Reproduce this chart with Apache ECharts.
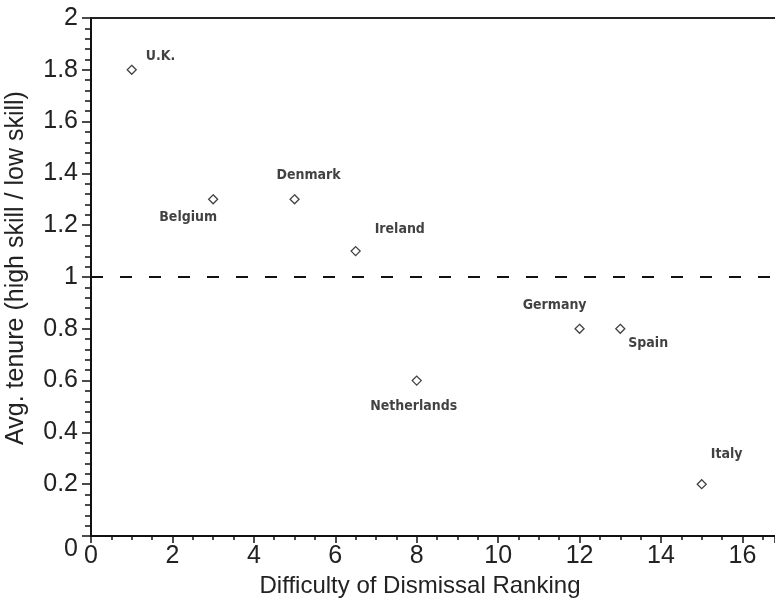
<!DOCTYPE html>
<html>
<head>
<meta charset="utf-8">
<script src="https://cdn.jsdelivr.net/npm/echarts@6/dist/echarts.min.js"></script>
<style>
html,body{margin:0;padding:0;background:#fff;}
#c{width:775px;height:604px;}
</style>
</head>
<body>
<div id="c"></div>
<script>
// Data
var countries = ['U.K.', 'Belgium', 'Denmark', 'Ireland', 'Netherlands', 'Germany', 'Spain', 'Italy'];
var dismissalRanking = [1, 3, 5, 6.5, 8, 12, 13, 15];
var tenureRatio = [1.8, 1.3, 1.3, 1.1, 0.6, 0.8, 0.8, 0.2];
var referenceLevel = 1;
var xTicks = [0, 2, 4, 6, 8, 10, 12, 14, 16];
var yTicks = [0, 0.2, 0.4, 0.6, 0.8, 1, 1.2, 1.4, 1.6, 1.8, 2];

// Label placement (style only)
var labelPlacement = {
  'U.K.':        {align: 'left',   offset: [14, -13]},
  'Belgium':     {align: 'right',  offset: [4, 18]},
  'Denmark':     {align: 'center', offset: [14, -24]},
  'Ireland':     {align: 'left',   offset: [19, -22]},
  'Netherlands': {align: 'center', offset: [-3, 26]},
  'Germany':     {align: 'right',  offset: [7, -23]},
  'Spain':       {align: 'left',   offset: [8, 15]},
  'Italy':       {align: 'left',   offset: [9, -30]}
};

var points = countries.map(function (name, i) {
  var p = labelPlacement[name];
  return {
    name: name,
    value: [dismissalRanking[i], tenureRatio[i]],
    label: {
      show: true,
      position: 'inside',
      align: p.align,
      verticalAlign: 'middle',
      offset: p.offset,
      formatter: name
    }
  };
});

var axisFont = 'Liberation Sans, Arial, sans-serif';
var chart = echarts.init(document.getElementById('c'), null, {renderer: 'canvas'});
chart.setOption({
  animation: false,
  backgroundColor: '#fff',
  grid: {left: 91, right: 0, top: 18, bottom: 68, containLabel: false, outerBoundsMode: 'none'},
  xAxis: [{
    type: 'value',
    min: xTicks[0],
    max: 16.8,
    interval: 2,
    name: 'Difficulty of Dismissal Ranking',
    nameLocation: 'middle',
    nameGap: 36,
    nameTextStyle: {fontFamily: axisFont, fontSize: 24, color: '#222', padding: [0, 26, 0, 0]},
    axisLine: {show: true, onZero: false, lineStyle: {color: '#111', width: 2}},
    axisTick: {show: true, inside: false, length: 7, lineStyle: {color: '#111', width: 1.5}},
    minorTick: {show: true, splitNumber: 4, length: 4, lineStyle: {color: '#111', width: 1.5}},
    axisLabel: {
      fontFamily: axisFont, fontSize: 25, color: '#222', margin: 8,
      showMaxLabel: false,
      formatter: function (v) { return xTicks.indexOf(v) >= 0 ? String(v) : ''; }
    },
    splitLine: {show: false}
  }, {
    type: 'value',
    position: 'top',
    min: xTicks[0],
    max: 16.8,
    axisLine: {show: true, onZero: false, lineStyle: {color: '#222', width: 2}},
    axisTick: {show: false},
    axisLabel: {show: false},
    splitLine: {show: false}
  }],
  yAxis: {
    type: 'value',
    min: yTicks[0],
    max: yTicks[yTicks.length - 1],
    interval: 0.2,
    name: 'Avg. tenure (high skill / low skill)',
    nameLocation: 'middle',
    nameGap: 62,
    nameRotate: 90,
    nameTextStyle: {fontFamily: axisFont, fontSize: 25, color: '#222', padding: [0, 0, 0, 18]},
    axisLine: {show: true, onZero: false, lineStyle: {color: '#111', width: 2}},
    axisTick: {show: true, inside: false, length: 9, lineStyle: {color: '#111', width: 1.5}},
    minorTick: {show: true, splitNumber: 5, length: 6, lineStyle: {color: '#111', width: 1.5}},
    axisLabel: {
      fontFamily: axisFont, fontSize: 25, color: '#222', margin: 13,
      formatter: function (v) {
        var s = String(Math.round(v * 10) / 10);
        return v === 0 ? '{z|' + s + '}' : s;
      },
      rich: {z: {fontFamily: axisFont, fontSize: 25, color: '#222', padding: [26, 0, 0, 0]}}
    },
    splitLine: {show: false}
  },
  series: [{
    type: 'scatter',
    xAxisIndex: 0,
    symbol: 'diamond',
    symbolSize: 9,
    itemStyle: {color: '#fff', borderColor: '#111', borderWidth: 1.3},
    label: {
      fontFamily: 'Liberation Sans Narrow, DejaVu Sans Condensed, sans-serif',
      fontWeight: 'bold',
      fontSize: 14,
      color: '#111'
    },
    data: points,
    markLine: {
      silent: true,
      symbol: ['none', 'none'],
      label: {show: false},
      lineStyle: {color: '#111', width: 2, type: [12, 17]},
      data: [{yAxis: referenceLevel}]
    }
  }]
});
</script>
</body>
</html>
